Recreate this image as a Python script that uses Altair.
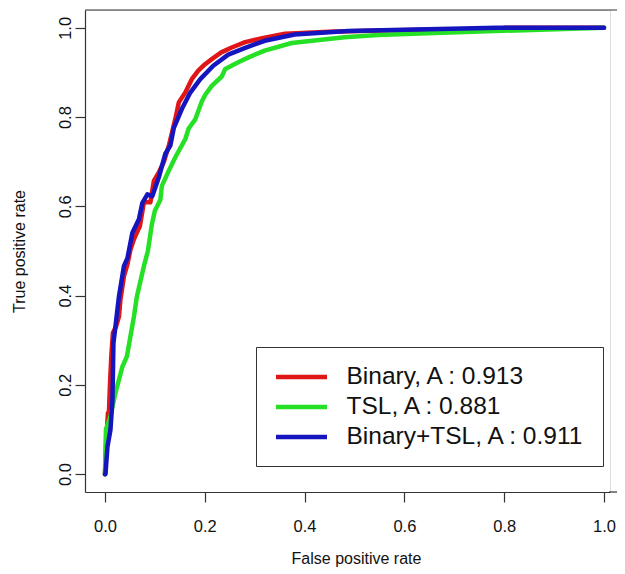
import altair as alt
import pandas as pd

# ---- data ----
labels = ["Binary, A : 0.913", "TSL, A : 0.881", "Binary+TSL, A : 0.911"]
colors = ["#E01515", "#25E025", "#1515C0"]

binary_fpr = [0, 0.002, 0.004, 0.006, 0.008, 0.010, 0.013, 0.016, 0.022, 0.028, 0.031, 0.038,
              0.045, 0.051, 0.058, 0.064, 0.070, 0.078, 0.091, 0.098, 0.108, 0.118, 0.128, 0.141,
              0.148, 0.161, 0.174, 0.187, 0.200, 0.214, 0.233, 0.254, 0.281, 0.320, 0.361, 0.45,
              0.55, 0.65, 0.79, 0.80, 0.90, 1.0]
binary_tpr = [0, 0.05, 0.10, 0.137, 0.14, 0.20, 0.27, 0.317, 0.33, 0.353, 0.391, 0.443,
              0.47, 0.503, 0.526, 0.541, 0.556, 0.609, 0.609, 0.657, 0.676, 0.70, 0.736, 0.796,
              0.833, 0.855, 0.885, 0.904, 0.918, 0.930, 0.945, 0.956, 0.968, 0.978, 0.987, 0.991,
              0.994, 0.996, 0.997, 1.0, 1.0, 1.0]

tsl_fpr = [0, 0.001, 0.002, 0.011, 0.021, 0.035, 0.044, 0.058, 0.064, 0.078, 0.086, 0.094,
           0.100, 0.111, 0.114, 0.128, 0.141, 0.161, 0.168, 0.181, 0.194, 0.201, 0.214, 0.234,
           0.241, 0.267, 0.290, 0.320, 0.374, 0.480, 0.547, 0.646, 0.872, 1.0]
tsl_tpr = [0, 0.06, 0.10, 0.13, 0.182, 0.241, 0.264, 0.353, 0.398, 0.466, 0.50, 0.56,
           0.59, 0.615, 0.646, 0.68, 0.71, 0.751, 0.775, 0.795, 0.835, 0.850, 0.870, 0.891,
           0.908, 0.923, 0.935, 0.949, 0.966, 0.979, 0.984, 0.988, 0.996, 1.0]

both_fpr = [0, 0.001, 0.005, 0.008, 0.011, 0.015, 0.017, 0.021, 0.028, 0.038, 0.045, 0.055,
            0.068, 0.075, 0.085, 0.095, 0.108, 0.121, 0.131, 0.138, 0.154, 0.171, 0.191, 0.217,
            0.247, 0.281, 0.320, 0.380, 0.487, 0.60, 0.786, 1.0]
both_tpr = [0, 0, 0.061, 0.08, 0.099, 0.166, 0.294, 0.331, 0.398, 0.466, 0.484, 0.541,
            0.571, 0.608, 0.627, 0.623, 0.665, 0.718, 0.736, 0.776, 0.818, 0.855, 0.885, 0.915,
            0.940, 0.955, 0.971, 0.985, 0.993, 0.996, 1.0, 1.0]

x_ticks = [0, 0.2, 0.4, 0.6, 0.8, 1.0]
y_ticks = [0, 0.2, 0.4, 0.6, 0.8, 1.0]

rows = []
for name, fx, fy in zip(labels, [binary_fpr, tsl_fpr, both_fpr], [binary_tpr, tsl_tpr, both_tpr]):
    for i, (a, b) in enumerate(zip(fx, fy)):
        rows.append({"model": name, "fpr": a, "tpr": b, "idx": i})
df = pd.DataFrame(rows)

W, H = 525, 482
PAD_R = 7
FONT = "Liberation Sans"
AX = "#333333"
TXT = "#111111"

x_axis = alt.Axis(values=x_ticks, format=".1f", title="False positive rate", grid=False,
                  domain=True, domainColor=AX, domainWidth=1.2, tickColor=AX, tickWidth=1.2,
                  tickSize=10, labelFont=FONT, labelFontSize=16.5, labelColor=TXT,
                  labelPadding=29, labelBaseline="alphabetic", labelFlush=False,
                  labelOverlap=False, titleFont=FONT, titleFontSize=16, titleFontWeight="normal",
                  titleColor=TXT, titleX=271, titleY=71, titleBaseline="alphabetic",
                  titleAlign="center")
y_axis = alt.Axis(values=y_ticks, format=".1f", title="True positive rate", grid=False,
                  domain=True, domainColor=AX, domainWidth=1.2, tickColor=AX, tickWidth=1.2,
                  tickSize=10, labelFont=FONT, labelFontSize=16.5, labelColor=TXT,
                  labelAngle=270, labelAlign="center", labelBaseline="alphabetic",
                  labelPadding=5, labelFlush=False, labelOverlap=False,
                  titleFont=FONT, titleFontSize=16, titleFontWeight="normal", titleColor=TXT,
                  titleAngle=270, titleX=-61, titleY=241, titleBaseline="alphabetic",
                  titleAlign="center")

legend = alt.Legend(title=None, orient="none", legendX=171, legendY=337,
                    symbolType="M-1,0H4.1", symbolSize=400, symbolStrokeWidth=4.5,
                    labelFont=FONT, labelFontSize=24.5, labelColor=TXT, labelOffset=48,
                    labelLimit=500, padding=17.5, rowPadding=5, strokeColor=AX,
                    fillColor="white")

lines = alt.Chart(df).mark_line(strokeWidth=4.5, strokeCap="round", strokeJoin="round").encode(
    x=alt.X("fpr:Q", scale=alt.Scale(domain=[-0.04, 1.012], nice=False, zero=False), axis=x_axis),
    y=alt.Y("tpr:Q", scale=alt.Scale(domain=[-0.04, 1.04], nice=False, zero=False), axis=y_axis),
    color=alt.Color("model:N", scale=alt.Scale(domain=labels, range=colors), sort=labels,
                    legend=legend),
    order="idx:Q",
)

top_rule = alt.Chart(pd.DataFrame({"k": [0]})).mark_rule(color=AX, strokeWidth=1.2).encode(
    y=alt.value(0), x=alt.value(0), x2=alt.value(W + PAD_R)
)
bottom_ext = alt.Chart(pd.DataFrame({"k": [0]})).mark_rule(color=AX, strokeWidth=1.2).encode(
    y=alt.value(H), x=alt.value(W - 1), x2=alt.value(W + PAD_R)
)

chart = alt.layer(lines, top_rule, bottom_ext).properties(
    width=W, height=H,
    padding={"left": 77, "top": 2, "right": PAD_R, "bottom": 76},
    autosize=alt.AutoSizeParams(type="none"),
).configure_view(stroke=None).configure(background="white")

chart.save("out.html", embed_options={"renderer": "svg", "actions": False})
